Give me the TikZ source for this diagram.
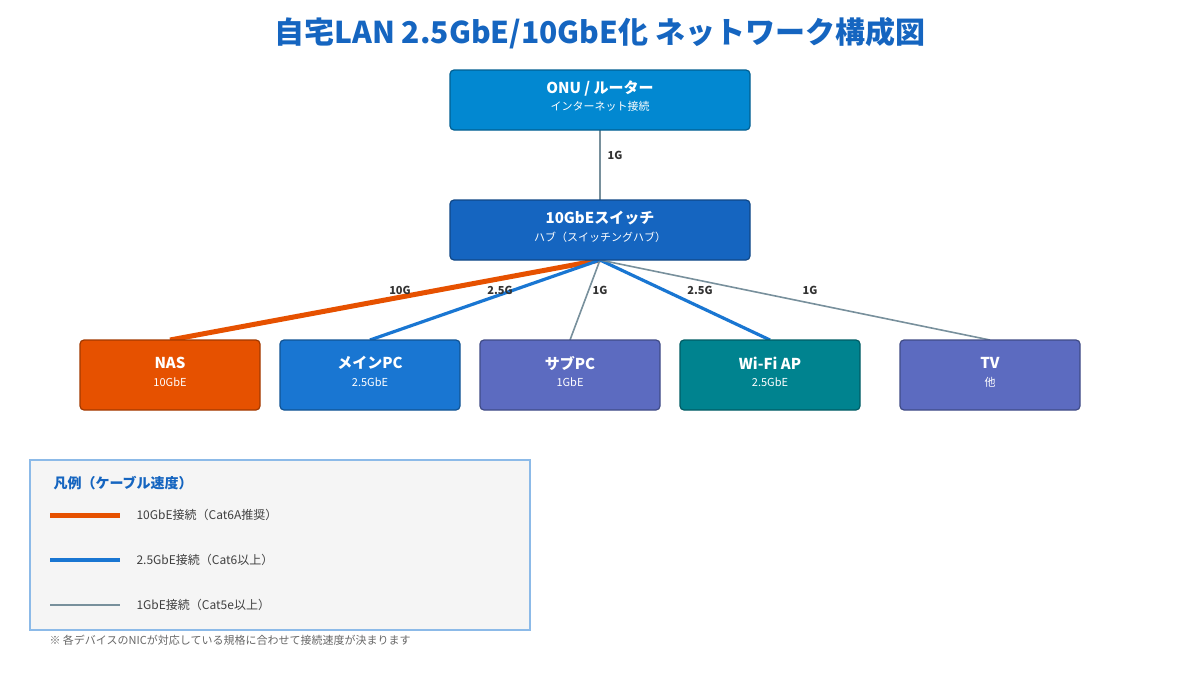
\documentclass[tikz,border=0pt]{standalone}
\usepackage{fontspec}
\setmainfont{Noto Sans CJK JP}
\begin{document}
\begin{tikzpicture}[x=1pt,y=-1pt,
 box/.style={draw=#1!70!black,fill=#1,rounded corners=4pt,line width=1.2pt},
 nm/.style={text=white,font=\fontsize{15}{17}\selectfont\bfseries},
 sb/.style={text=white,font=\fontsize{11}{13}\selectfont},
 lab/.style={text=black!80,font=\fontsize{11}{13}\selectfont\bfseries},
 l10/.style={draw=c10,line width=5pt},
 l25/.style={draw=c25,line width=3.2pt},
 l1/.style={draw=c1,line width=1.6pt}]
\definecolor{c10}{HTML}{E65100}
\definecolor{c25}{HTML}{1976D2}
\definecolor{c1}{HTML}{78909C}
\definecolor{onu}{HTML}{0288D1}
\definecolor{sw}{HTML}{1565C0}
\definecolor{sub}{HTML}{5C6BC0}
\definecolor{wifi}{HTML}{00838F}
\useasboundingbox (0,0) rectangle (1200,675);
\node[text=sw,font=\fontsize{30}{34}\selectfont\bfseries] (title) at (600,33) {自宅LAN 2.5GbE/10GbE化 ネットワーク構成図};
% lines first
\coordinate (hub) at (600,260);
\draw[l1] (600,130) coordinate (onub) -- (600,200) coordinate (swt);
\node[lab] (g0) at (615,155) {1G};
\draw[l10] (hub) -- (170,340) coordinate (nast);
\draw[l25] (hub) -- (370,340) coordinate (pct);
\draw[l1] (hub) -- (570,340) coordinate (subt);
\draw[l25] (hub) -- (770,340) coordinate (wit);
\draw[l1] (hub) -- (990,340) coordinate (tvt);
\node[lab] (g1) at (400,290) {10G};
\node[lab] (g2) at (500,290) {2.5G};
\node[lab] (g3) at (600,290) {1G};
\node[lab] (g4) at (700,290) {2.5G};
\node[lab] (g5) at (810,290) {1G};
% boxes
\draw[box=onu] (450,70) rectangle (750,130);
\node[nm] (onu) at (600,88) {ONU / ルーター};
\node[sb] (onus) at (600,106) {インターネット接続};
\draw[box=sw] (450,200) rectangle (750,260);
\node[nm] (sw) at (600,218) {10GbEスイッチ};
\node[sb] (sws) at (600,237) {ハブ（スイッチングハブ）};
\foreach \x/\c/\n/\s [count=\i] in {80/c10/NAS/10GbE,280/c25/メインPC/2.5GbE,480/sub/サブPC/1GbE,680/wifi/Wi-Fi AP/2.5GbE,900/sub/TV / 他/1GbE}{
 \draw[box=\c] (\x,340) rectangle ++(180,70);
 \node[nm] (n\i) at (\x+90,363) {\n};
 \node[sb] (s\i) at (\x+90,382) {\s};
}
% legend
\draw[fill=black!4,draw=c25!50,line width=1.2pt] (30,460) rectangle (530,630);
\node[anchor=west,text=sw,font=\fontsize{14}{16}\selectfont\bfseries] (lt) at (50,483) {凡例（ケーブル速度）};
\draw[l10] (50,515) coordinate (a1) -- (120,515) coordinate (b1);
\node[anchor=west,text=black!75,font=\fontsize{12}{14}\selectfont] (t1) at (133,515) {10GbE接続（Cat6A推奨）};
\draw[l25] (50,560) coordinate (a2) -- (120,560) coordinate (b2);
\node[anchor=west,text=black!75,font=\fontsize{12}{14}\selectfont] (t2) at (133,560) {2.5GbE接続（Cat6以上）};
\draw[l1] (50,605) coordinate (a3) -- (120,605) coordinate (b3);
\node[anchor=west,text=black!75,font=\fontsize{12}{14}\selectfont] (t3) at (133,605) {1GbE接続（Cat5e以上）};
\node[anchor=west,text=black!60,font=\fontsize{11}{13}\selectfont] (note) at (46,640) {※ 各デバイスのNICが対応している規格に合わせて接続速度が決まります};
\end{tikzpicture}
\end{document}
